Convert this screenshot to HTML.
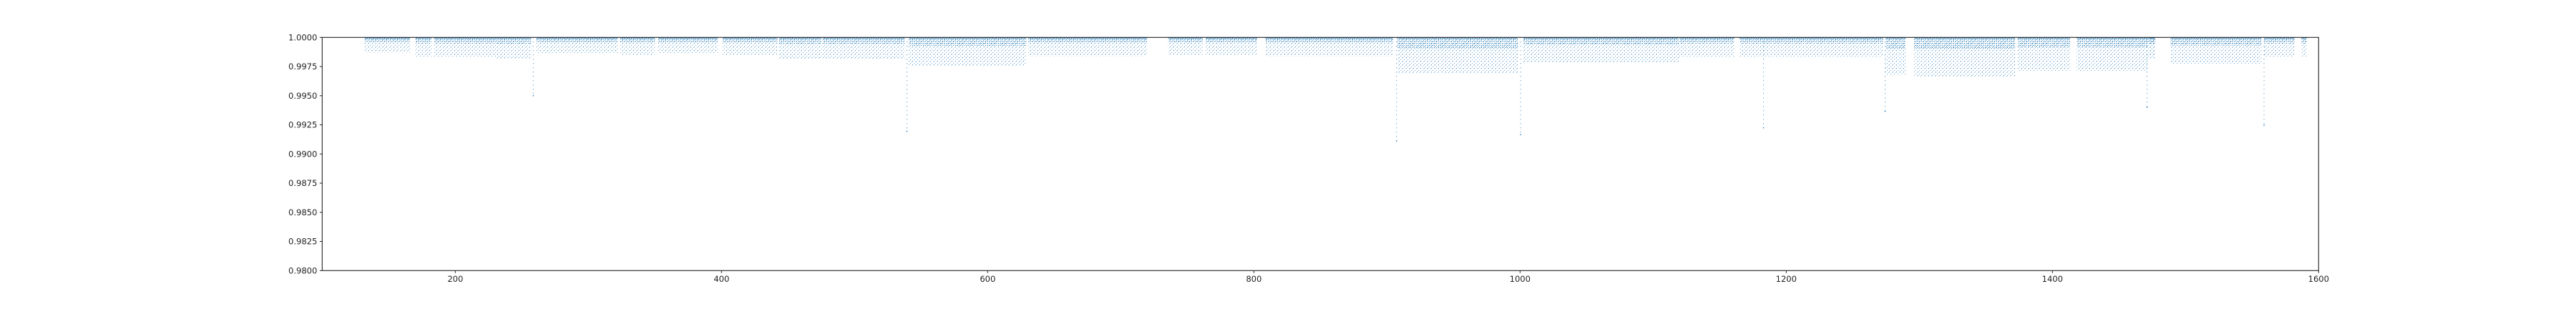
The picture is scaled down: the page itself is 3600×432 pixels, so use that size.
<!DOCTYPE html>
<html><head><meta charset="utf-8">
<style>
html,body{margin:0;padding:0;background:#fff;}
svg{display:block;font-family:"DejaVu Sans","Liberation Sans",sans-serif;}
</style></head>
<body>
<svg id="chart" width="3600" height="432" viewBox="0 0 3600 432" xmlns="http://www.w3.org/2000/svg">
<defs>
<pattern id="dotsLight" width="5" height="5" patternUnits="userSpaceOnUse">
<rect x="0" y="0" width="1" height="1" fill="#1f77b4" opacity="0.8"/>
<rect x="2" y="3" width="1" height="1" fill="#1f77b4" opacity="0.65"/>
<rect x="4" y="1" width="1" height="1" fill="#1f77b4" opacity="0.45"/>
</pattern>
<pattern id="dotsDense" width="3" height="3" patternUnits="userSpaceOnUse">
<rect x="0" y="0" width="1" height="1" fill="#1f77b4" opacity="0.8"/>
<rect x="2" y="1" width="1" height="1" fill="#1f77b4" opacity="0.6"/>
</pattern>
</defs>
<g id="marks"></g>
<g id="axes"></g>
</svg>
<script>
// data: observation segments (time start, time end, typical min flux) and dip points
const segStart = [132,170,184,231,261,324,352.5,401,443.4,476,540.7,630.6,735.7,763.9,808.5,907.8,1002.5,1119.7,1164.8,1274.8,1296.2,1374,1418.3,1472.8,1488.8,1472,1489,1559,1587];
const segEnd   = [166,182,231,257,322,350,397,442,475,537.7,629,719.6,761.4,802.5,904.7,998.3,1119.2,1160.9,1272.8,1289.7,1372,1413.1,1471.8,1477.3,1471,1477,1557,1582,1591];
const segDepth = [0.9987,0.9983,0.9983,0.9982,0.99864,0.99852,0.99864,0.99852,0.99817,0.99817,0.99758,0.9984,0.99852,0.99852,0.9984,0.99688,0.99782,0.99829,0.99829,0.99676,0.99664,0.99711,0.99711,0.9984,0.99758,0.9982,0.99769,0.9983,0.9983];
const dipTime  = [258.6,539.3,907.2,1000.4,1182.9,1274.3,1471.1,1559];
const dipFlux  = [0.9950,0.99195,0.99112,0.99166,0.99225,0.99366,0.99401,0.99247];
const xTicks = [200,400,600,800,1000,1200,1400,1600];
const yTicks = [1.0,0.9975,0.995,0.9925,0.99,0.9875,0.985,0.9825,0.98];
const yTickLabels = ["1.0000","0.9975","0.9950","0.9925","0.9900","0.9875","0.9850","0.9825","0.9800"];

const X0=450.3, X1=3240.3, Y0=52.3, Y1=378.3;
const XMIN=100, XMAX=1600, YMIN=0.98, YMAX=1.0;
function sx(v){return X0+(v-XMIN)/(XMAX-XMIN)*(X1-X0);}
function sy(v){return Y0+(YMAX-v)/(YMAX-YMIN)*(Y1-Y0);}
const NS="http://www.w3.org/2000/svg";
function mk(tag,attrs,parent){const e=document.createElementNS(NS,tag);for(const k in attrs)e.setAttribute(k,attrs[k]);parent.appendChild(e);return e;}

const marks=document.getElementById('marks');
for(let i=0;i<segStart.length;i++){
  const x=sx(segStart[i]), w=Math.max(1,sx(segEnd[i])-x), yb=sy(segDepth[i]);
  const g=mk('g',{},marks);
  
  
  const r1=mk('rect',{x:x,y:Y0,width:w,height:yb-Y0,fill:'url(#dotsLight)'},g);
  
  
  const hd=(yb-Y0)*0.3;
  const r2=mk('rect',{x:x,y:Y0,width:w,height:hd,fill:'url(#dotsDense)'},g);
  
  
  const r3=mk('rect',{x:x,y:Y0,width:w,height:1.5,fill:'#1f77b4',opacity:0.7},g);
  
  
}
for(let i=0;i<dipTime.length;i++){
  const x=sx(dipTime[i]);
  const l=mk('line',{x1:x,x2:x,y1:Y0,y2:sy(dipFlux[i]),stroke:'#1f77b4','stroke-width':1,'stroke-dasharray':'1 5',opacity:0.9},marks);
  
  
  const c=mk('rect',{x:x-0.7,y:sy(dipFlux[i])-0.7,width:1.4,height:1.4,fill:'#1f77b4'},marks);
  
  
}

const axes=document.getElementById('axes');
const frame=mk('rect',{x:X0,y:Y0,width:X1-X0,height:Y1-Y0,fill:'none',stroke:'#222','stroke-width':1.1},axes);


for(let i=0;i<yTicks.length;i++){
  const y=sy(yTicks[i]);
  const t=mk('line',{x1:X0-3.5,x2:X0,y1:y,y2:y,stroke:'#222','stroke-width':1},axes);
  
  
  const tx=mk('text',{x:X0-7,y:y+4,'text-anchor':'end','font-size':11.5,fill:'#222'},axes);
  tx.textContent=yTickLabels[i];
  
  
}
for(let i=0;i<xTicks.length;i++){
  const x=sx(xTicks[i]);
  const t=mk('line',{x1:x,x2:x,y1:Y1,y2:Y1+3.5,stroke:'#222','stroke-width':1},axes);
  
  
  const tx=mk('text',{x:x,y:Y1+15.5,'text-anchor':'middle','font-size':11.5,fill:'#222'},axes);
  tx.textContent=String(xTicks[i]);
  
  
}
</script>
</body></html>
